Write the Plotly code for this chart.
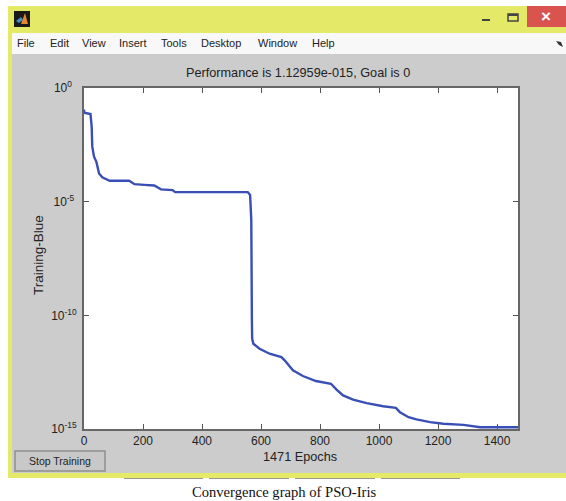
import plotly.graph_objects as go

# Training curve: epoch and log10(performance)
epochs = [0, 1, 22, 26, 28, 34, 42, 51, 62, 87, 153, 171, 204, 238, 261, 300, 309, 555, 563, 567,
          569, 570, 574, 595, 629, 669, 680, 708, 742, 786, 837, 856, 878, 912, 958, 1014, 1057,
          1071, 1100, 1127, 1173, 1218, 1286, 1343, 1471]
log_perf = [-0.95, -1.09, -1.145, -1.70, -2.58, -3.02, -3.25, -3.76, -3.93, -4.08, -4.08, -4.23, -4.26,
            -4.29, -4.46, -4.49, -4.58, -4.58, -4.71, -5.81,
            -10.22, -11.03, -11.25, -11.47, -11.69, -11.84, -11.98, -12.42, -12.67, -12.89, -13.01,
            -13.27, -13.52, -13.71, -13.86, -14.0, -14.07, -14.26, -14.48, -14.58, -14.70, -14.77,
            -14.82, -14.92, -14.92]
perf = [10 ** v for v in log_perf]

x_ticks = [0, 200, 400, 600, 800, 1000, 1200, 1400]
y_ticks = [1, 1e-5, 1e-10, 1e-15]
y_tick_labels = ["10<sup>0</sup>", "10<sup>-5</sup>", "10<sup>-10</sup>", "10<sup>-15</sup>"]
y_tick_pads = ["&nbsp;&nbsp;", "&nbsp;", "", ""]
menu_items = [("File", 26), ("Edit", 59), ("View", 94), ("Insert", 133), ("Tools", 174),
              ("Desktop", 221), ("Window", 277), ("Help", 323)]

W, H = 566, 501
L, R, T, B = 84, 518, 88, 429


def px(x):
    return (x - L) / (R - L)


def py(y):
    return (B - y) / (B - T)


def rect(x0, y0, x1, y1, fill, line=None, width=0):
    return dict(type="rect", xref="paper", yref="paper", layer="below",
                x0=px(x0), x1=px(x1), y0=py(y0), y1=py(y1), fillcolor=fill,
                line=dict(color=line or fill, width=width))


def poly(points, fill):
    path = "M " + " L ".join(f"{px(x)} {py(y)}" for x, y in points) + " Z"
    return dict(type="path", xref="paper", yref="paper", layer="below", path=path,
                fillcolor=fill, line=dict(width=0))


def text(x, y, s, size=11, color="#222222", family="Liberation Sans", angle=0):
    return dict(xref="paper", yref="paper", x=px(x), y=py(y), text=s, showarrow=False,
                xanchor="center", yanchor="middle", textangle=angle,
                font=dict(size=size, color=color, family=family))


shapes = [
    rect(8, 6, 566, 478, "#e4e968"),
    rect(124, 478, 203, 479, "#9a9a9a"),
    rect(209, 478, 289, 479, "#9a9a9a"),
    rect(295, 478, 375, 479, "#9a9a9a"),
    rect(381, 478, 460, 479, "#9a9a9a"),
    rect(12, 33, 566, 54, "#f8f8f8"),
    rect(12, 54, 566, 473, "#cccccc"),
    rect(527, 6, 566, 27, "#d9534f"),
    rect(14, 11, 30, 27, "#1a1a1a"),
    poly([(16, 21), (21, 17), (23, 20), (19, 23)], "#3f8fc4"),
    poly([(21, 24), (25, 13), (28, 24)], "#e8862a"),
    rect(482, 19, 490, 21, "#444444"),
    rect(508, 14, 518, 21, "#e4e968", "#444444", 1.5),
    rect(508, 14, 518, 16, "#444444"),
    poly([(556, 41), (561, 42), (563, 47), (559, 45)], "#333333"),
    rect(15, 451, 105, 471, "#c8c8c8", "#8e8e8e", 1.5),
    rect(L, T, R, B, "#ffffff"),
]

annotations = [text(x, 43, s, 11) for s, x in menu_items]
annotations += [
    text(546, 17, "<b>×</b>", 17, "#ffffff"),
    text(298, 73, "Performance is 1.12959e-015, Goal is 0", 12.7),
    text(300, 457, "1471 Epochs", 12.7),
    text(38, 255, "Training-Blue", 13.5, angle=-90),
    text(60, 461, "Stop Training", 10.5),
    text(284, 492, "Convergence graph of PSO-Iris", 14.6, "#111111", "Liberation Serif"),
]

fig = go.Figure(go.Scatter(x=epochs, y=perf, mode="lines", line=dict(color="#3a4fb5", width=2.4),
                           hoverinfo="skip"))
axis_style = dict(showgrid=False, zeroline=False, ticks="inside", ticklen=5, tickwidth=1,
                  tickcolor="#555555", showline=True, linecolor="#666666", linewidth=2,
                  mirror="ticks", tickfont=dict(size=12, color="#222222", family="Liberation Sans"))
fig.update_xaxes(range=[0, 1471], tickmode="array", tickvals=x_ticks, **axis_style)
fig.update_yaxes(type="log", range=[-15, 0], tickmode="array", tickvals=y_ticks,
                 ticktext=[a + f"<sup>{b}</sup>" for a, b in zip(y_tick_labels, y_tick_pads)],
                 ticklabelstandoff=3, **axis_style)
fig.update_layout(width=W, height=H, autosize=False, showlegend=False,
                  margin=dict(l=L, r=W - R, t=T, b=H - B, pad=0),
                  paper_bgcolor="#ffffff", plot_bgcolor="#ffffff",
                  shapes=shapes, annotations=annotations)
fig.write_html("out.html", config=dict(displayModeBar=False),
               post_script="document.body.style.margin='0';")
